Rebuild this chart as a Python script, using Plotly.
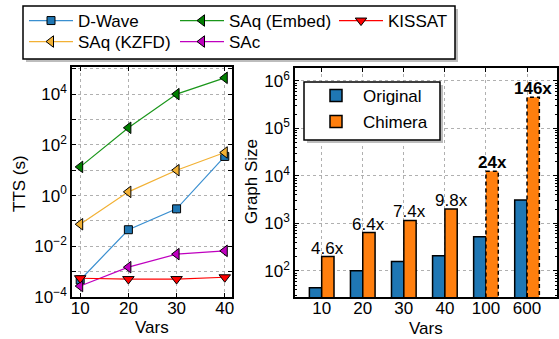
import math
import plotly.graph_objects as go

# ---------------- data ----------------
vars_tts = [10, 20, 30, 40]
dwave = [4.7e-4, 0.045, 0.30, 35]
saq_kzfd = [0.074, 1.4, 10, 50]
saq_embed = [13.5, 470, 1.0e4, 4.4e4]
sac = [2.7e-4, 1.5e-3, 4.9e-3, 6.6e-3]
kissat = [5.5e-4, 5.1e-4, 5.1e-4, 6.0e-4]

graph_vars = ["10", "20", "30", "40", "100", "600"]
original = [44, 100, 157, 207, 525, 3100]
chimera = [200, 640, 1150, 2000, 12500, 450000]
ratio_labels = ["4.6x", "6.4x", "7.4x", "9.8x", "24x", "146x"]
ratio_bold = [False, False, False, False, True, True]
dashed_edge = [False, False, False, False, True, True]

W, H = 559, 339
FONT = "Liberation Sans, Arial, sans-serif"
FS = 17


def px_x(p):
    return p / W


def px_y(p):
    return 1 - p / H


fig = go.Figure()

# ---------------- left: TTS ----------------
# (name, values, marker colour, line colour, symbol, size, legend id, legend pos)
series = [
    ("D-Wave", dwave, "#1f77b4", "#3a8fd0", "square", 8, "legend", (24, 21)),
    ("SAq (KZFD)", saq_kzfd, "#f2b134", "#f2b134", "triangle-left", 10, "legend3", (24, 42)),
    ("SAq (Embed)", saq_embed, "#007f00", "#1a961a", "triangle-left", 10, "legend4", (175, 21)),
    ("SAc", sac, "#bf00bf", "#bf00bf", "triangle-left", 10, "legend5", (175, 42)),
    ("KISSAT", kissat, "#ff0000", "#ff0000", "triangle-down", 10, "legend6", (334, 21)),
]
legend_defs = {}
for name, vals, mcol, lcol, sym, size, lg, pos in series:
    fig.add_trace(go.Scatter(
        x=vars_tts, y=vals, name=name, mode="lines+markers",
        line=dict(color=lcol, width=1.2),
        marker=dict(symbol=sym, size=size, color=mcol,
                    line=dict(color="black", width=1)),
        xaxis="x", yaxis="y", legend=lg,
    ))
    legend_defs[lg] = pos

# ---------------- right: graph size ----------------
idx = list(range(len(graph_vars)))
fig.add_trace(go.Bar(
    x=idx, y=original, name="Original",
    marker=dict(color="#1f77b4", line=dict(color="black", width=1.5)),
    xaxis="x2", yaxis="y2", legend="legend2",
))
legend_defs["legend2"] = (309, 96)
fig.add_trace(go.Bar(
    x=idx, y=chimera, name="Chimera",
    marker=dict(color="#ff7f0e",
                line=dict(color="black",
                          width=[0 if d else 1.5 for d in dashed_edge])),
    xaxis="x2", yaxis="y2", legend="legend7",
))
legend_defs["legend7"] = (309, 122)

BARW = 0.3
for i, (v, d) in enumerate(zip(chimera, dashed_edge)):
    if d:
        x0, x1 = i, i + BARW
        fig.add_trace(go.Scatter(
            x=[x0, x0, x1, x1], y=[10, v, v, 10], mode="lines",
            line=dict(color="black", width=1.5, dash="4px,3px"),
            xaxis="x2", yaxis="y2", showlegend=False, hoverinfo="skip",
        ))

annotations = []
for i, (v, lab, b) in enumerate(zip(chimera, ratio_labels, ratio_bold)):
    annotations.append(dict(
        x=i + BARW / 2, y=math.log10(v), xref="x2", yref="y2",
        text=f"<b>{lab}</b>" if b else lab, showarrow=False,
        xanchor="center", yanchor="bottom", yshift=-3,
        font=dict(size=FS, color="black", family=FONT),
    ))

title_font = dict(size=FS, family=FONT, color="black")
annotations += [
    dict(x=px_x(152), y=px_y(327), xref="paper", yref="paper", text="Vars",
         xanchor="center", yanchor="middle", showarrow=False, font=title_font),
    dict(x=px_x(426), y=px_y(328.5), xref="paper", yref="paper", text="Vars",
         xanchor="center", yanchor="middle", showarrow=False, font=title_font),
    dict(x=px_x(19), y=px_y(184), xref="paper", yref="paper", text="TTS (s)",
         xanchor="center", yanchor="middle", textangle=-90, showarrow=False,
         font=title_font),
    dict(x=px_x(251), y=px_y(182), xref="paper", yref="paper", text="Graph Size",
         xanchor="center", yanchor="middle", textangle=-90, showarrow=False,
         font=title_font),
]

# ---------------- axes ----------------
axis_common = dict(
    showline=True, linecolor="black", linewidth=1.5, mirror="ticks",
    ticks="inside", ticklen=4, tickwidth=1, tickcolor="black",
    showgrid=True, gridcolor="#b0b0b0", griddash="dot", gridwidth=1,
    zeroline=False, automargin=False,
    tickfont=dict(size=FS, family=FONT, color="black"),
)

y1_major = [10.0 ** e for e in range(-4, 6, 2)]
y1_text = [f"10<sup>{str(e).replace('-', '−')}</sup>" for e in range(-4, 6, 2)]
y1_minor = [10.0 ** e for e in range(-3, 6, 2)]
y2_vals = [10.0 ** e for e in range(2, 7)]
y2_text = [f"10<sup>{e}</sup>" for e in range(2, 7)]

legend_layout = {}
for lg, (lx, ly) in legend_defs.items():
    legend_layout[lg] = dict(
        x=px_x(lx), y=px_y(ly), xanchor="left", yanchor="middle",
        bgcolor="rgba(0,0,0,0)", borderwidth=0, itemwidth=44,
        font=dict(size=FS, family=FONT, color="black"),
    )

fig.update_layout(
    width=W, height=H,
    margin=dict(l=0, r=0, t=0, b=0),
    paper_bgcolor="white", plot_bgcolor="white",
    font=dict(family=FONT, color="black"),
    barmode="group", bargap=0.4, bargroupgap=0,
    xaxis=dict(domain=[px_x(72), px_x(232)], range=[8.3, 41.5],
               tickvals=vars_tts, anchor="y", ticklabelstandoff=-5,
               **axis_common),
    yaxis=dict(domain=[px_y(297), px_y(67)], type="log", range=[-4, 5.07],
               tickvals=y1_major, ticktext=y1_text, anchor="x",
               minor=dict(tickvals=y1_minor, ticks="inside", ticklen=4,
                          tickcolor="black", showgrid=True,
                          gridcolor="#b0b0b0", griddash="dot", gridwidth=1),
               **axis_common),
    xaxis2=dict(domain=[px_x(295), px_x(557)], range=[-0.65, 5.73],
                tickvals=idx, ticktext=graph_vars, anchor="y2",
                ticklabelstandoff=-5, **axis_common),
    yaxis2=dict(domain=[px_y(297), px_y(68)], type="log", range=[1.45, 6.27],
                tickvals=y2_vals, ticktext=y2_text, anchor="x2",
                minor=dict(ticks="inside", ticklen=2, tickcolor="black",
                           dtick="D1", showgrid=False),
                **axis_common),
    annotations=annotations,
    showlegend=True,
    shapes=[
        # top legend frame with shadow
        dict(type="rect", xref="paper", yref="paper", layer="above",
             x0=px_x(26), x1=px_x(458), y0=px_y(9), y1=px_y(62),
             fillcolor="#bdbdbd", line=dict(width=0)),
        dict(type="rect", xref="paper", yref="paper", layer="above",
             x0=px_x(23), x1=px_x(455), y0=px_y(6), y1=px_y(59),
             fillcolor="white", line=dict(color="black", width=1.5)),
        # bar legend frame with shadow
        dict(type="rect", xref="paper", yref="paper", layer="above",
             x0=px_x(307), x1=px_x(443), y0=px_y(85), y1=px_y(143),
             fillcolor="#bdbdbd", line=dict(width=0)),
        dict(type="rect", xref="paper", yref="paper", layer="above",
             x0=px_x(304), x1=px_x(440), y0=px_y(82), y1=px_y(140),
             fillcolor="white", line=dict(color="black", width=1.5)),
    ],
    **legend_layout,
)

fig.write_html("out.html", config={"displayModeBar": False},
               post_script="document.body.style.margin='0px';")
